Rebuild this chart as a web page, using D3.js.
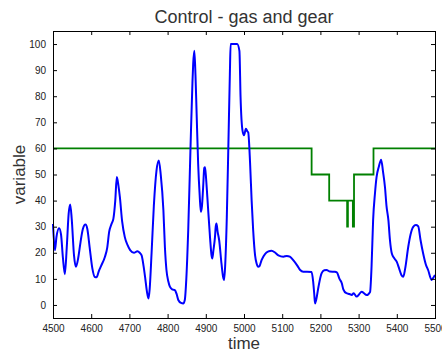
<!DOCTYPE html>
<html><head><meta charset="utf-8">
<script src="https://cdn.jsdelivr.net/npm/d3@7"></script>
<style>body{margin:0;background:#fff}svg{display:block}</style>
</head><body><svg id="c" width="442" height="352"></svg>
<script>
const gasTimes = [4500,4505,4509,4516,4521,4526,4531,4536,4541,4545,4549,4555,4560,4566,4572,4578,4585,4590,4596,4603,4609,4614,4620,4626,4636,4642,4647,4653,4658,4663,4667,4671,4675,4681,4688,4695,4702,4712,4721,4727,4732,4737,4741,4746,4750,4753,4758,4764,4771,4777,4782,4789,4793,4797,4802,4806,4812,4819,4824,4828,4835,4841,4845,4849,4854,4860,4865,4867,4870,4873,4876,4880,4884,4887,4890,4893,4896,4898,4901,4904,4911,4915,4917,4920,4924,4926,4928,4931,4935,4941,4945,4948,4951,4955,4959,4963,4965,4982,4988,4991,4996,5000,5005,5009,5011,5016,5020,5024,5029,5033,5037,5041,5046,5055,5064,5072,5082,5090,5103,5112,5120,5130,5140,5147,5155,5165,5177,5181,5184,5186,5189,5195,5203,5210,5216,5225,5238,5243,5250,5256,5260,5268,5276,5282,5287,5295,5301,5308,5314,5321,5330,5334,5338,5343,5347,5353,5359,5364,5369,5373,5378,5382,5387,5393,5400,5406,5412,5417,5422,5430,5436,5443,5450,5456,5462,5469,5476,5482,5491,5496,5500];
const gasValues = [31,21,26,29.4,27,18,11.8,22,35,38.5,33,19,14.6,18,24,29,30.8,29,22,14,10.8,10.6,13,15,18.5,22,28,31,33,40,49,46,41.4,32,26,23,21,20,20.6,20,19,15,10.8,5,2.5,6,19.7,38,51.6,55.4,50,36.3,22,13.4,9,7,6,5.7,4,1.9,0.8,0.6,1.9,10,28.7,60.5,85,92.4,97.4,88,73.3,54,42,35.7,38,45,52.5,52.8,48,41.4,26,19,17.8,21,26,30,31.2,28,24.8,15.9,11,9.6,16,33.7,60.5,88.5,100,100,97.4,79.6,66.9,65,67.5,66.5,66.2,54.1,40,28.7,19,15.9,14.6,15,17.2,19.5,20.5,20.8,20,19,18.5,18.8,18.5,17,15,13.4,12.7,12.7,12.6,9,4,0.6,2,7,12.1,13.3,13.4,12.8,12.7,12.5,10,8.3,6,4.5,4.2,3.8,4.5,3.2,4,5.1,4.5,3.8,5,15,32.5,43,49,53,55.7,51,45.2,38,32.5,25,19.7,18,16.5,14,11.5,10.8,14,22.3,27,29.9,30.6,30.2,25,19.7,15.5,13.4,9.6,10.5,11.5];
const gearTimes = [4500,5177,5223,5270,5272,5285,5288,5339,5500];
const gearValues = [60,50,40,30,40,30,50,60,60];
const xTickValues = [4500,4600,4700,4800,4900,5000,5100,5200,5300,5400,5500];
const yTickValues = [0,10,20,30,40,50,60,70,80,90,100];
const titleText = "Control - gas and gear";
const xLabel = "time";
const yLabel = "variable";

const svg = d3.select("#c");
const L = 53, R = 435, T = 31, B = 318;
const x = d3.scaleLinear().domain([4500,5500]).range([L,R]);
const y = d3.scaleLinear().domain([-5,105]).range([B,T]);
const font = "'Liberation Sans', Arial, sans-serif";

svg.append("rect").attr("width",442).attr("height",352).attr("fill","#fff");

const plot = svg.append("g");
const gas = gasTimes.map((t,i)=>[t,gasValues[i]]);
const gear = gearTimes.map((t,i)=>[t,gearValues[i]]);

plot.append("path").datum(gear)
  .attr("d", d3.line().x(d=>x(d[0])).y(d=>y(d[1])).curve(d3.curveStepAfter))
  .attr("fill","none").attr("stroke","#008000").attr("stroke-width",1.8);
plot.append("path").datum(gas)
  .attr("d", d3.line().x(d=>x(d[0])).y(d=>y(d[1])).curve(d3.curveMonotoneX))
  .attr("fill","none").attr("stroke","#0000ff").attr("stroke-width",2).attr("stroke-linejoin","round");

function styleAxis(g){
  g.select(".domain").remove();
  g.selectAll("line").attr("stroke","#000");
  g.selectAll("text").attr("font-family",font).attr("font-size","10px").attr("fill","#222");
}
svg.append("g").attr("transform",`translate(0,${B})`)
  .call(d3.axisBottom(x).tickValues(xTickValues).tickFormat(d3.format("d")).tickSizeInner(-4).tickSizeOuter(0).tickPadding(7))
  .call(styleAxis);
svg.append("g").attr("transform",`translate(0,${T})`)
  .call(d3.axisTop(x).tickValues(xTickValues).tickFormat("").tickSizeInner(-4).tickSizeOuter(0))
  .call(styleAxis);
svg.append("g").attr("transform",`translate(${L},0)`)
  .call(d3.axisLeft(y).tickValues(yTickValues).tickFormat(d3.format("d")).tickSizeInner(-4).tickSizeOuter(0).tickPadding(7))
  .call(styleAxis);
svg.append("g").attr("transform",`translate(${R},0)`)
  .call(d3.axisRight(y).tickValues(yTickValues).tickFormat("").tickSizeInner(-4).tickSizeOuter(0))
  .call(styleAxis);

svg.append("rect").attr("x",L+0.5).attr("y",T+0.5).attr("width",R-L).attr("height",B-T)
  .attr("fill","none").attr("stroke","#000").attr("stroke-width",1);

svg.append("text").attr("x",(L+R)/2).attr("y",23).attr("text-anchor","middle")
  .attr("font-family",font).attr("font-size","18px").attr("fill","#333").text(titleText);
svg.append("text").attr("x",(L+R)/2).attr("y",349).attr("text-anchor","middle")
  .attr("font-family",font).attr("font-size","17px").attr("fill","#333").text(xLabel);
svg.append("text").attr("transform",`translate(25,${(T+B)/2}) rotate(-90)`).attr("text-anchor","middle")
  .attr("font-family",font).attr("font-size","17px").attr("fill","#333").text(yLabel);
</script>
</body></html>
